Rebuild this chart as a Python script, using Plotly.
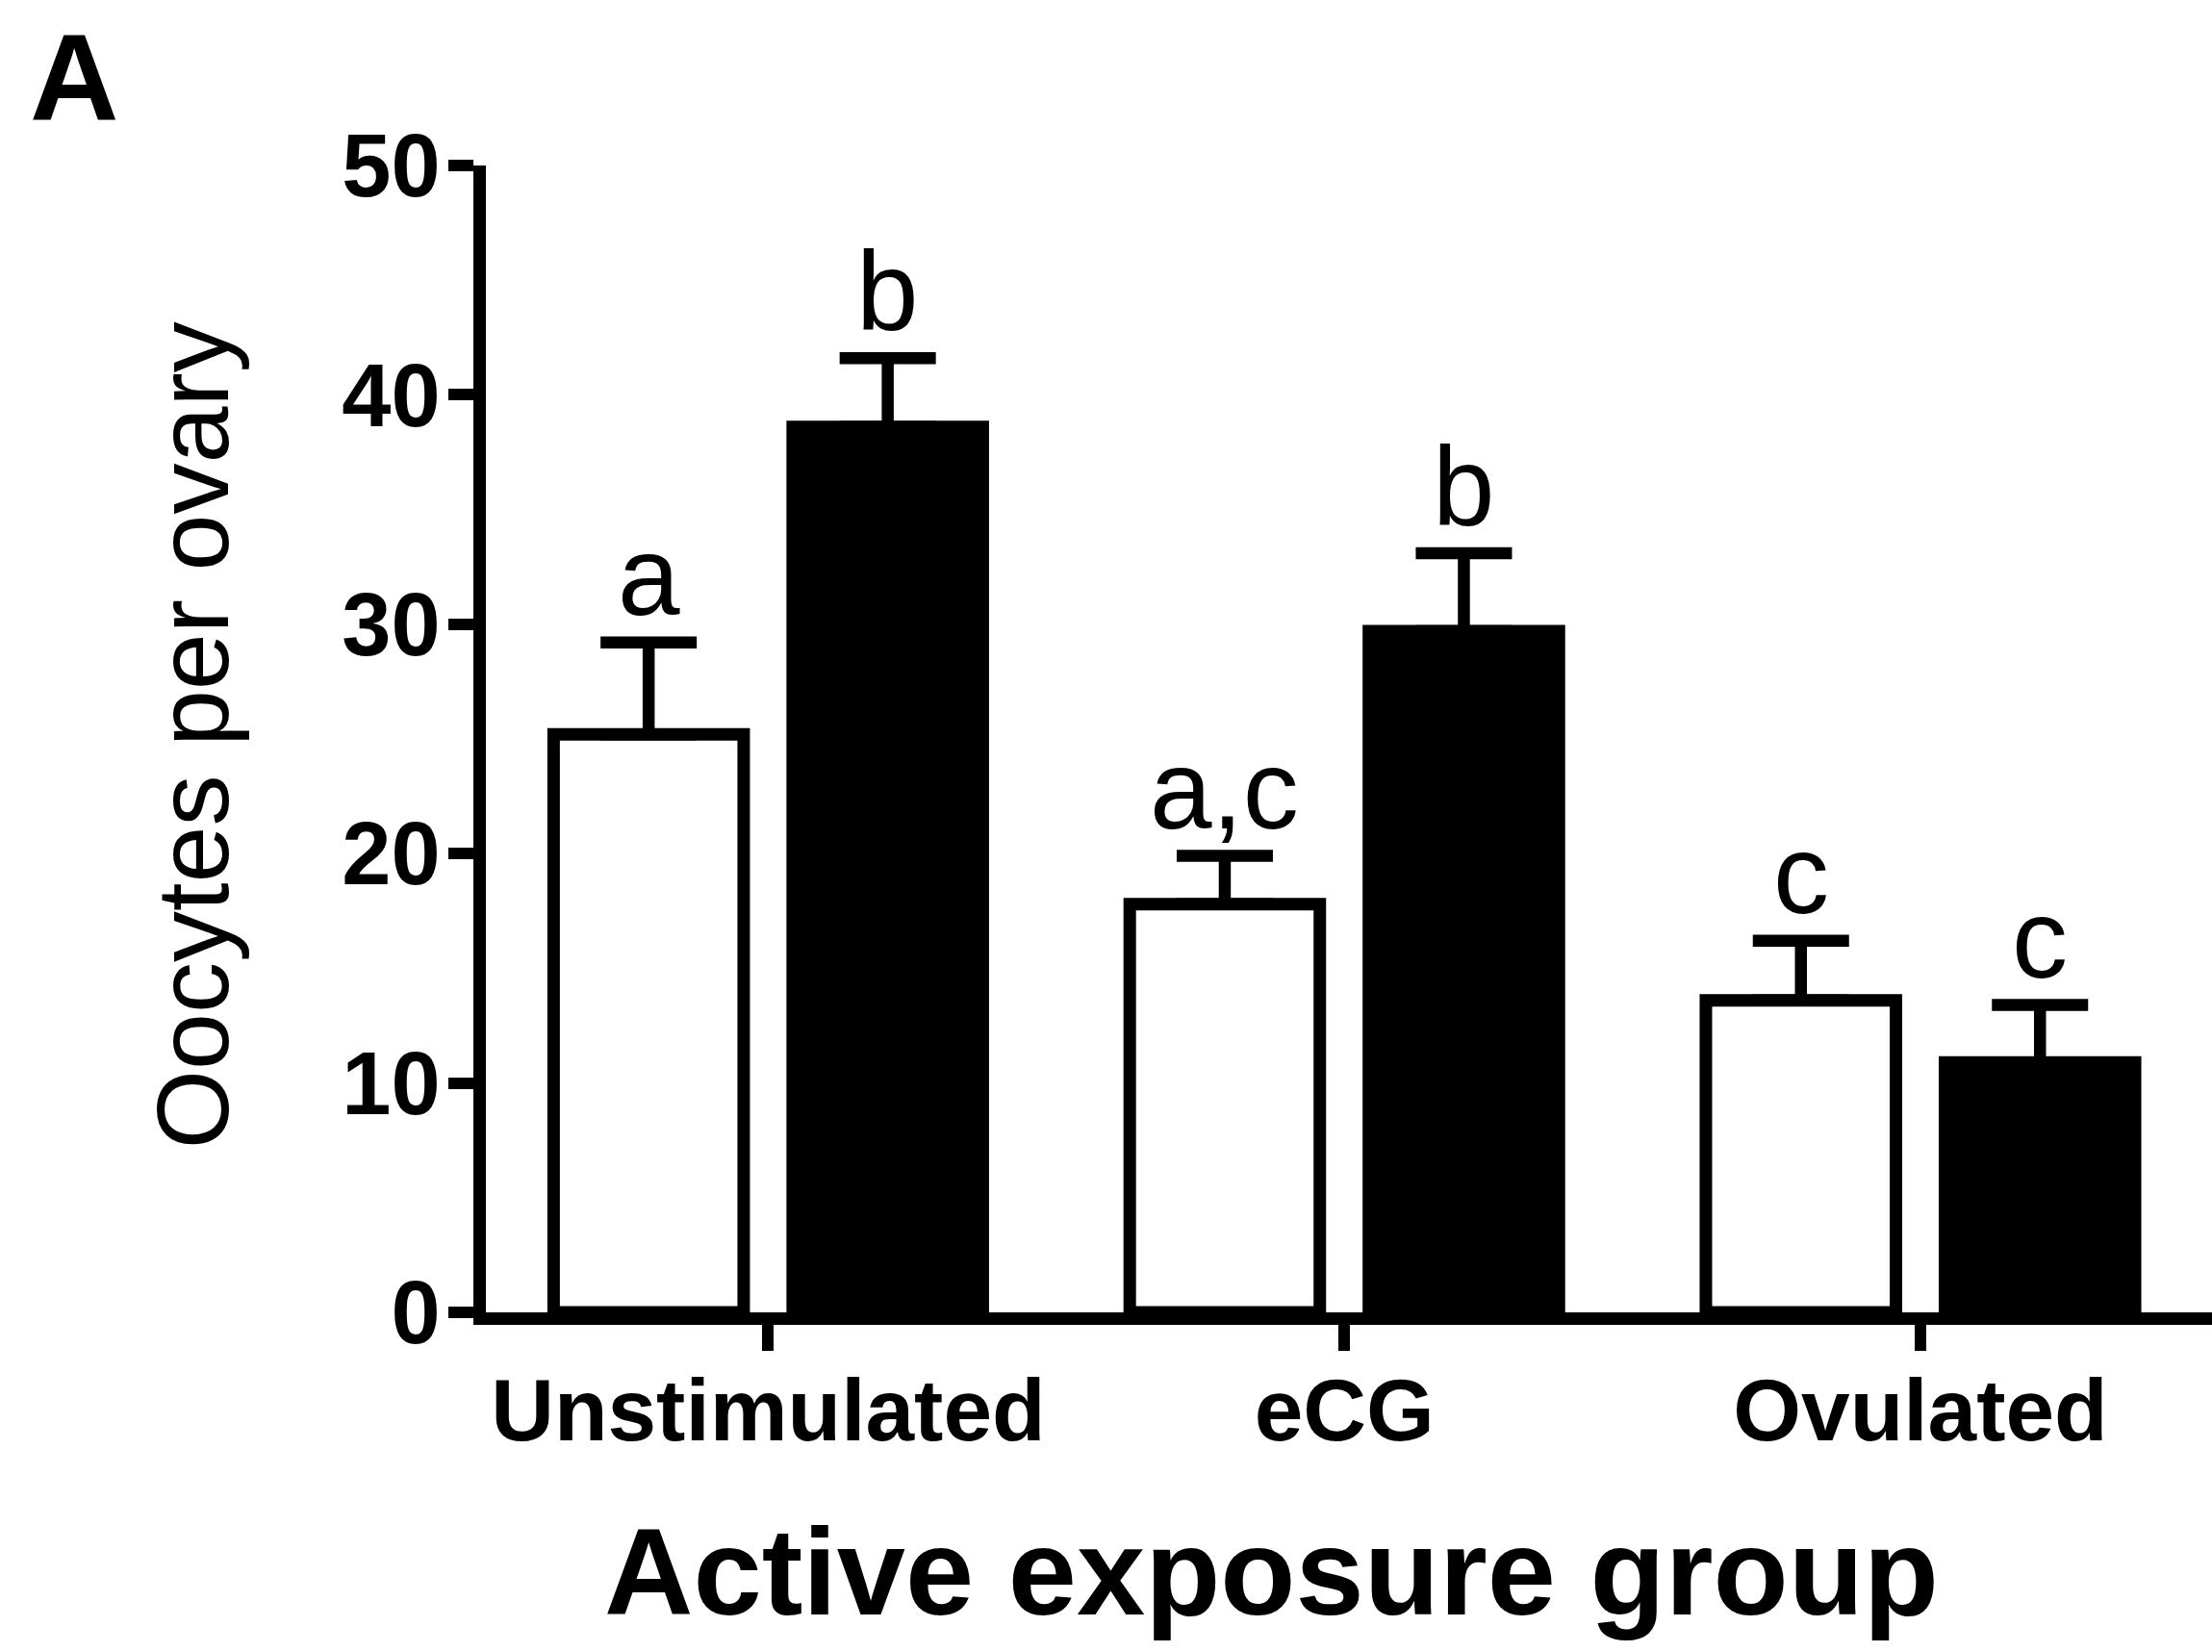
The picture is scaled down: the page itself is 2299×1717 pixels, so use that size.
import plotly.graph_objects as go

# ---- data ----
groups = ["Unstimulated", "eCG", "Ovulated"]
open_means = [25.2, 17.8, 13.6]
open_sem = [4.0, 2.1, 2.6]
filled_means = [38.6, 29.7, 10.9]
filled_sem = [3.0, 3.4, 2.5]
open_letters = ["a", "a,c", "c"]
filled_letters = ["b", "b", "c"]
y_ticks = [0, 10, 20, 30, 40, 50]

FONT = "Liberation Sans, Arial, Helvetica, sans-serif"
BARGAP = 0.17
BARGROUPGAP = 0.205
LW = 13

fig = go.Figure()

def add_series(means, sem, fill):
    fig.add_trace(go.Bar(
        x=groups, y=means,
        marker=dict(color=fill, line=dict(color="black", width=LW)),
        error_y=dict(type="data", array=sem, arrayminus=[0] * len(sem),
                     symmetric=False, color="black", thickness=12.5, width=50),
        showlegend=False, hoverinfo="skip",
    ))

add_series(open_means, open_sem, "white")
add_series(filled_means, filled_sem, "black")

# significance letters above the error bars
offset = (1 - BARGAP) / 4
annotations = []
for i in range(len(groups)):
    for sign, means, sem, letters in ((-1, open_means, open_sem, open_letters),
                                      (1, filled_means, filled_sem, filled_letters)):
        annotations.append(dict(
            x=i + sign * offset, y=means[i] + sem[i], xref="x", yref="y",
            text=letters[i], showarrow=False, xanchor="center", yanchor="bottom",
            yshift=2, font=dict(family=FONT, size=116, color="black"),
        ))

# axis titles and panel letter
annotations.append(dict(
    x=-0.1695, y=0.503, xref="paper", yref="paper", text="Oocytes per ovary",
    textangle=-90, showarrow=False, xanchor="center", yanchor="middle",
    font=dict(family=FONT, size=106, color="black"),
))
annotations.append(dict(
    x=0.4554, y=-0.226, xref="paper", yref="paper", text="Active exposure group",
    showarrow=False, xanchor="center", yanchor="middle",
    font=dict(family=FONT, size=128, color="black", weight="bold"),
))
annotations.append(dict(
    x=-0.2386, y=1.0767, xref="paper", yref="paper", text="A",
    showarrow=False, xanchor="center", yanchor="middle",
    font=dict(family=FONT, size=128, color="black", weight="bold"),
))

fig.update_layout(
    width=2299, height=1717,
    margin=dict(l=505, r=0, t=172, b=353, autoexpand=False),
    paper_bgcolor="white", plot_bgcolor="white",
    barmode="group", bargap=BARGAP, bargroupgap=BARGROUPGAP,
    annotations=annotations,
    font=dict(family=FONT, color="black"),
)
fig.update_xaxes(
    type="category", range=[-0.49, 2.506],
    showline=True, linewidth=LW, linecolor="black",
    ticks="outside", ticklen=27, tickwidth=12, tickcolor="black",
    ticklabelstandoff=-16,
    tickfont=dict(family=FONT, size=91, color="black", weight="bold"),
    showgrid=False, zeroline=False,
)
fig.update_yaxes(
    range=[0, 50], tickvals=y_ticks, ticktext=[str(v) for v in y_ticks],
    showline=True, linewidth=LW, linecolor="black",
    ticks="outside", ticklen=26, tickwidth=12, tickcolor="black",
    ticklabelstandoff=-10,
    tickfont=dict(family=FONT, size=92, color="black", weight="bold"),
    showgrid=False, zeroline=False,
)

fig.write_html("out.html")
